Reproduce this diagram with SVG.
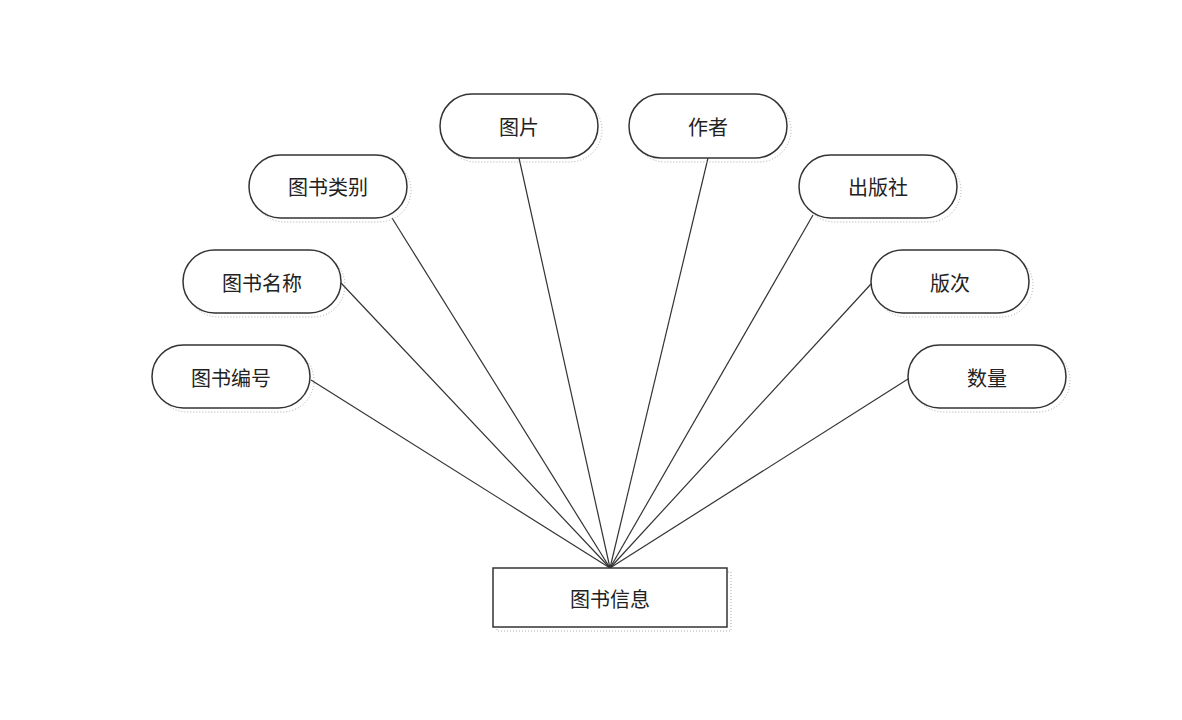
<svg xmlns="http://www.w3.org/2000/svg" width="1182" height="720" viewBox="0 0 1182 720">
<style>
.n{fill:#fff;stroke:#333;stroke-width:1.5}
.s{fill:none;stroke:#aaa;stroke-width:1;stroke-dasharray:1 2}
.t{font-family:"Noto Sans CJK SC","Liberation Sans",sans-serif;font-size:20px;fill:#222;text-anchor:middle;dominant-baseline:central}
.c{stroke:#333;stroke-width:1.2;fill:none}
</style>
<rect width="1182" height="720" fill="#fff"/>
<g id="connectors">
<line class="c" x1="311" y1="380" x2="610" y2="568"/>
<line class="c" x1="341" y1="283" x2="610" y2="568"/>
<line class="c" x1="392" y1="218" x2="610" y2="568"/>
<line class="c" x1="519" y1="158" x2="610" y2="568"/>
<line class="c" x1="708" y1="158" x2="610" y2="568"/>
<line class="c" x1="813" y1="215" x2="610" y2="568"/>
<line class="c" x1="871" y1="284" x2="610" y2="568"/>
<line class="c" x1="908" y1="379" x2="610" y2="568"/>
</g>
<g id="n-pic"><rect class="s" x="444" y="98" width="158" height="64" rx="32"/><rect class="n" x="440" y="94" width="158" height="64" rx="32"/><text class="t" x="519" y="126">图片</text></g>
<g id="n-author"><rect class="s" x="633" y="98" width="158" height="64" rx="32"/><rect class="n" x="629" y="94" width="158" height="64" rx="32"/><text class="t" x="708" y="126">作者</text></g>
<g id="n-category"><rect class="s" x="253" y="159" width="158" height="63" rx="31.5"/><rect class="n" x="249" y="155" width="158" height="63" rx="31.5"/><text class="t" x="328" y="186">图书类别</text></g>
<g id="n-publisher"><rect class="s" x="803" y="159" width="158" height="63" rx="31.5"/><rect class="n" x="799" y="155" width="158" height="63" rx="31.5"/><text class="t" x="878" y="186">出版社</text></g>
<g id="n-name"><rect class="s" x="187" y="254" width="158" height="63" rx="31.5"/><rect class="n" x="183" y="250" width="158" height="63" rx="31.5"/><text class="t" x="262" y="282">图书名称</text></g>
<g id="n-edition"><rect class="s" x="875" y="254" width="158" height="63" rx="31.5"/><rect class="n" x="871" y="250" width="158" height="63" rx="31.5"/><text class="t" x="950" y="282">版次</text></g>
<g id="n-id"><rect class="s" x="156" y="349" width="158" height="63" rx="31.5"/><rect class="n" x="152" y="345" width="158" height="63" rx="31.5"/><text class="t" x="231" y="377">图书编号</text></g>
<g id="n-qty"><rect class="s" x="912" y="349" width="158" height="63" rx="31.5"/><rect class="n" x="908" y="345" width="158" height="63" rx="31.5"/><text class="t" x="987" y="377">数量</text></g>
<g id="n-book"><rect class="s" x="497" y="572" width="234" height="59"/><rect class="n" x="493" y="568" width="234" height="59"/><text class="t" x="610" y="598">图书信息</text></g>
</svg>
